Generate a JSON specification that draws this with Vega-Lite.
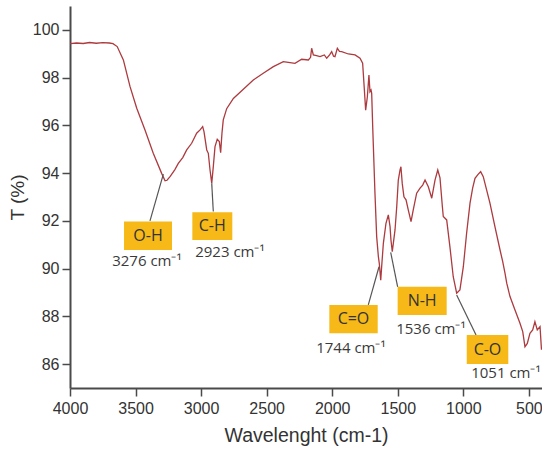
{
  "$schema": "https://vega.github.io/schema/vega-lite/v6.json",
  "width": 472,
  "height": 382,
  "autosize": {"type": "none"},
  "padding": {"left": 70, "top": 6, "right": 0, "bottom": 64},
  "background": "white",
  "config": {
    "view": {"stroke": null}
  },
  "datasets": {
    "spectrum": [
      {"wn": 4000, "T": 99.42}, {"wn": 3950, "T": 99.45}, {"wn": 3900, "T": 99.43}, {"wn": 3850, "T": 99.47},
      {"wn": 3800, "T": 99.44}, {"wn": 3750, "T": 99.47}, {"wn": 3700, "T": 99.45}, {"wn": 3672, "T": 99.42},
      {"wn": 3640, "T": 99.3}, {"wn": 3593, "T": 98.74}, {"wn": 3542, "T": 97.62}, {"wn": 3491, "T": 96.72},
      {"wn": 3428, "T": 95.81}, {"wn": 3365, "T": 94.83}, {"wn": 3301, "T": 93.99}, {"wn": 3275, "T": 93.68},
      {"wn": 3260, "T": 93.7}, {"wn": 3237, "T": 93.85}, {"wn": 3200, "T": 94.15}, {"wn": 3174, "T": 94.41},
      {"wn": 3140, "T": 94.65}, {"wn": 3110, "T": 94.97}, {"wn": 3072, "T": 95.25}, {"wn": 3034, "T": 95.67},
      {"wn": 3008, "T": 95.81}, {"wn": 2988, "T": 95.95}, {"wn": 2978, "T": 95.74}, {"wn": 2957, "T": 94.97},
      {"wn": 2945, "T": 94.83}, {"wn": 2932, "T": 94.13}, {"wn": 2919, "T": 93.57}, {"wn": 2907, "T": 94.27},
      {"wn": 2894, "T": 95.11}, {"wn": 2877, "T": 95.42}, {"wn": 2861, "T": 95.32}, {"wn": 2851, "T": 94.86},
      {"wn": 2841, "T": 95.67}, {"wn": 2831, "T": 96.23}, {"wn": 2805, "T": 96.7}, {"wn": 2754, "T": 97.13},
      {"wn": 2678, "T": 97.51}, {"wn": 2602, "T": 97.9}, {"wn": 2526, "T": 98.18}, {"wn": 2449, "T": 98.46},
      {"wn": 2373, "T": 98.67}, {"wn": 2335, "T": 98.64}, {"wn": 2284, "T": 98.6}, {"wn": 2233, "T": 98.77},
      {"wn": 2182, "T": 98.74}, {"wn": 2165, "T": 98.85}, {"wn": 2157, "T": 99.23}, {"wn": 2144, "T": 98.95},
      {"wn": 2120, "T": 98.92}, {"wn": 2093, "T": 98.88}, {"wn": 2060, "T": 98.95}, {"wn": 2042, "T": 98.81},
      {"wn": 2020, "T": 98.95}, {"wn": 2004, "T": 99.09}, {"wn": 1990, "T": 98.9}, {"wn": 1979, "T": 98.88},
      {"wn": 1961, "T": 99.23}, {"wn": 1945, "T": 99.1}, {"wn": 1928, "T": 99.09}, {"wn": 1877, "T": 98.99},
      {"wn": 1826, "T": 98.95}, {"wn": 1788, "T": 98.81}, {"wn": 1768, "T": 98.6}, {"wn": 1758, "T": 97.76},
      {"wn": 1745, "T": 96.64}, {"wn": 1732, "T": 97.2}, {"wn": 1720, "T": 98.11}, {"wn": 1712, "T": 97.41},
      {"wn": 1704, "T": 97.48}, {"wn": 1699, "T": 97.34}, {"wn": 1691, "T": 95.9}, {"wn": 1674, "T": 93.16},
      {"wn": 1661, "T": 91.34}, {"wn": 1648, "T": 90.5}, {"wn": 1641, "T": 90.22}, {"wn": 1636, "T": 89.9},
      {"wn": 1630, "T": 89.52}, {"wn": 1623, "T": 90.08}, {"wn": 1610, "T": 91.06}, {"wn": 1590, "T": 91.9},
      {"wn": 1572, "T": 92.25}, {"wn": 1559, "T": 91.76}, {"wn": 1552, "T": 91.2}, {"wn": 1542, "T": 90.71},
      {"wn": 1534, "T": 91.06}, {"wn": 1521, "T": 91.62}, {"wn": 1508, "T": 92.59}, {"wn": 1496, "T": 93.71},
      {"wn": 1483, "T": 94.13}, {"wn": 1476, "T": 94.27}, {"wn": 1466, "T": 93.57}, {"wn": 1453, "T": 93.01},
      {"wn": 1437, "T": 92.88}, {"wn": 1420, "T": 92.46}, {"wn": 1399, "T": 91.97}, {"wn": 1382, "T": 92.46},
      {"wn": 1356, "T": 93.16}, {"wn": 1330, "T": 93.37}, {"wn": 1310, "T": 93.5}, {"wn": 1292, "T": 93.71},
      {"wn": 1267, "T": 93.43}, {"wn": 1241, "T": 92.95}, {"wn": 1216, "T": 93.71}, {"wn": 1195, "T": 94.13},
      {"wn": 1178, "T": 93.8}, {"wn": 1160, "T": 92.6}, {"wn": 1153, "T": 92.18}, {"wn": 1127, "T": 92.04},
      {"wn": 1102, "T": 90.9}, {"wn": 1077, "T": 89.66}, {"wn": 1051, "T": 88.97}, {"wn": 1026, "T": 89.11},
      {"wn": 1000, "T": 90.08}, {"wn": 975, "T": 91.48}, {"wn": 949, "T": 92.74}, {"wn": 929, "T": 93.37},
      {"wn": 911, "T": 93.78}, {"wn": 886, "T": 93.96}, {"wn": 868, "T": 94.06}, {"wn": 848, "T": 93.85},
      {"wn": 822, "T": 93.29}, {"wn": 797, "T": 92.74}, {"wn": 759, "T": 91.76}, {"wn": 720, "T": 90.78},
      {"wn": 700, "T": 90.3}, {"wn": 682, "T": 89.8}, {"wn": 669, "T": 89.39}, {"wn": 644, "T": 88.83},
      {"wn": 606, "T": 88.27}, {"wn": 568, "T": 87.71}, {"wn": 547, "T": 87.36}, {"wn": 530, "T": 86.73},
      {"wn": 512, "T": 86.87}, {"wn": 492, "T": 87.29}, {"wn": 471, "T": 87.43}, {"wn": 454, "T": 87.78},
      {"wn": 436, "T": 87.43}, {"wn": 415, "T": 87.57}, {"wn": 404, "T": 86.6}
    ],
    "labels": [
      {"label": "O-H", "sub": "3276 cm⁻¹", "x1": 3588, "x2": 3222, "y1": 91.97, "y2": 90.78, "tx": 3405, "ty": 91.37, "sx": 3413, "sy": 90.32, "lx1": 3390, "ly1": 92.0, "lx2": 3288, "ly2": 93.96},
      {"label": "C-H", "sub": "2923 cm⁻¹", "x1": 3067, "x2": 2762, "y1": 92.36, "y2": 91.2, "tx": 2915, "ty": 91.79, "sx": 2780, "sy": 90.71, "lx1": 2907, "ly1": 92.39, "lx2": 2919, "ly2": 93.57},
      {"label": "C=O", "sub": "1744 cm⁻¹", "x1": 2022, "x2": 1653, "y1": 88.48, "y2": 87.29, "tx": 1838, "ty": 87.89, "sx": 1857, "sy": 86.66, "lx1": 1725, "ly1": 88.48, "lx2": 1643, "ly2": 90.08},
      {"label": "N-H", "sub": "1536 cm⁻¹", "x1": 1501, "x2": 1127, "y1": 89.24, "y2": 88.06, "tx": 1314, "ty": 88.65, "sx": 1247, "sy": 87.46, "lx1": 1501, "ly1": 89.24, "lx2": 1554, "ly2": 90.68},
      {"label": "C-O", "sub": "1051 cm⁻¹", "x1": 974, "x2": 657, "y1": 87.22, "y2": 86.01, "tx": 816, "ty": 86.61, "sx": 675, "sy": 85.62, "lx1": 903, "ly1": 87.22, "lx2": 1051, "ly2": 88.9}
    ]
  },
  "layer": [
    {
      "data": {"name": "spectrum"},
      "mark": {"type": "line", "color": "#ad3a3e", "strokeWidth": 1.3, "interpolate": "linear"},
      "encoding": {
        "x": {
          "field": "wn", "type": "quantitative", "title": "Wavelenght (cm-1)",
          "scale": {"domain": [400, 4000], "reverse": true, "nice": false, "zero": false},
          "axis": {
            "values": [4000, 3750, 3500, 3250, 3000, 2750, 2500, 2250, 2000, 1750, 1500, 1250, 1000, 750, 500],
            "labelExpr": "datum.value % 500 === 0 ? datum.label : ''",
            "format": "d",
            "labelFlush": false,
            "labelOverlap": false,
            "grid": false,
            "domainColor": "#4a4a4a",
            "domainWidth": 2,
            "tickColor": "#4a4a4a",
            "tickWidth": 1.5,
            "tickSize": {"condition": {"test": "datum.value % 500 === 0", "value": 8}, "value": 5},
            "labelFont": "Liberation Sans",
            "labelFontSize": 16,
            "labelColor": "#333333",
            "labelPadding": 4,
            "titleFont": "Liberation Sans",
            "titleFontSize": 19.5,
            "titleFontWeight": "normal",
            "titleColor": "#333333",
            "titlePadding": 10
          }
        },
        "y": {
          "field": "T", "type": "quantitative", "title": "T (%)",
          "scale": {"domain": [85, 101], "nice": false, "zero": false},
          "axis": {
            "values": [86, 87, 88, 89, 90, 91, 92, 93, 94, 95, 96, 97, 98, 99, 100, 101],
            "labelExpr": "datum.value % 2 === 0 ? datum.label : ''",
            "labelFlush": false,
            "labelOverlap": false,
            "grid": false,
            "domainColor": "#4a4a4a",
            "domainWidth": 2,
            "tickColor": "#4a4a4a",
            "tickWidth": 1.5,
            "tickSize": {"condition": {"test": "datum.value % 2 === 0", "value": 8}, "value": 4},
            "labelFont": "Liberation Sans",
            "labelFontSize": 16,
            "labelColor": "#333333",
            "labelPadding": 3,
            "titleFont": "Liberation Sans",
            "titleFontSize": 19,
            "titleFontWeight": "normal",
            "titleColor": "#333333",
            "titlePadding": 5
          }
        }
      }
    },
    {
      "data": {"name": "labels"},
      "mark": {"type": "rule", "color": "#555555", "strokeWidth": 1.2},
      "encoding": {
        "x": {"field": "lx1", "type": "quantitative", "title": "Wavelenght (cm-1)"},
        "x2": {"field": "lx2"},
        "y": {"field": "ly1", "type": "quantitative", "title": "T (%)"},
        "y2": {"field": "ly2"}
      }
    },
    {
      "data": {"name": "labels"},
      "mark": {"type": "rect", "color": "#f6b918"},
      "encoding": {
        "x": {"field": "x1", "type": "quantitative", "title": "Wavelenght (cm-1)"},
        "x2": {"field": "x2"},
        "y": {"field": "y1", "type": "quantitative", "title": "T (%)"},
        "y2": {"field": "y2"}
      }
    },
    {
      "data": {"name": "labels"},
      "mark": {"type": "text", "font": "Open Sans", "fontSize": 16, "color": "#333333", "align": "center", "baseline": "middle"},
      "encoding": {
        "x": {"field": "tx", "type": "quantitative", "title": "Wavelenght (cm-1)"},
        "y": {"field": "ty", "type": "quantitative", "title": "T (%)"},
        "text": {"field": "label"}
      }
    },
    {
      "data": {"name": "labels"},
      "mark": {"type": "text", "font": "Open Sans", "fontSize": 15, "color": "#3a3a3a", "align": "center", "baseline": "middle"},
      "encoding": {
        "x": {"field": "sx", "type": "quantitative", "title": "Wavelenght (cm-1)"},
        "y": {"field": "sy", "type": "quantitative", "title": "T (%)"},
        "text": {"field": "sub"}
      }
    }
  ]
}
